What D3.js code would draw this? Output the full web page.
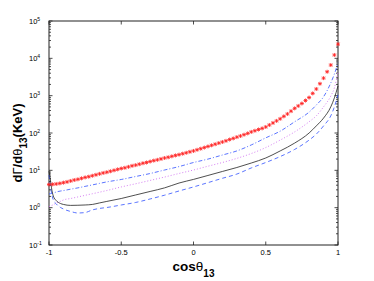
<!DOCTYPE html>
<html>
<head>
<meta charset="utf-8">
<script src="https://cdn.jsdelivr.net/npm/d3@7"></script>
<style>
body { margin: 0; background: #fff; }
text { font-family: "Liberation Sans", Arial, sans-serif; }
</style>
</head>
<body>
<div id="chart"></div>
<script>
const width = 374, height = 281;
const margin = {left: 49, right: 36, top: 21, bottom: 36};

// tick labels
const xTicks = [-1, -0.5, 0, 0.5, 1];
const xTickLabels = ['-1', '-0.5', '0', '0.5', '1'];
const yTicks = [1e-1, 1e0, 1e1, 1e2, 1e3, 1e4, 1e5];
const yTickExp = ['-1', '0', '1', '2', '3', '4', '5'];

// line series, sampled at cosLine
const cosLine = [-1, -0.99, -0.98, -0.97, -0.95, -0.92, -0.9, -0.85, -0.8, -0.75, -0.7, -0.65, -0.6,
	-0.5, -0.4, -0.3, -0.2, -0.1, 0, 0.1, 0.2, 0.3, 0.4, 0.5, 0.6, 0.7, 0.8, 0.85, 0.9, 0.95, 0.975, 1];
const solidBlack = [9.5, 5.5, 2.95, 2.04, 1.55, 1.29, 1.22, 1.15, 1.16, 1.18, 1.22, 1.34, 1.47,
	1.76, 2.19, 2.72, 3.39, 4.57, 5.71, 7.29, 9.33, 11.9, 15.7, 21.4, 33.1, 53.7, 100, 155, 251, 501, 871, 1820];
const dashBlue = [7.5, 3.8, 2.19, 1.61, 1.26, 1.01, 0.92, 0.79, 0.72, 0.74, 0.87, 0.955, 1.01,
	1.18, 1.38, 1.71, 2.16, 2.80, 3.59, 4.68, 6.12, 7.94, 11.6, 16.2, 23.4, 36.3, 64.6, 93.3, 155, 288, 501, 1050];
const dashDotBlue = [2.34, 2.37, 2.40, 2.45, 2.63, 2.79, 2.87, 3.13, 3.39, 3.72, 4.07, 4.47, 4.90,
	5.69, 6.84, 8.22, 10.2, 12.6, 16.2, 20.0, 25.7, 33.1, 47.9, 74.1, 112, 200, 363, 562, 933, 2190, 3800, 7590];
const dotMagenta = [1.05, 1.10, 1.15, 1.20, 1.34, 1.48, 1.61, 1.76, 1.94, 2.14, 2.36, 2.60, 2.88,
	3.59, 4.37, 5.37, 6.61, 8.24, 10.2, 12.9, 16.2, 20.9, 28.2, 40.7, 64.6, 107, 200, 288, 501, 977, 1620, 4270];

// star markers
const cosStar = [-1, -0.975, -0.95, -0.925, -0.9, -0.875, -0.85, -0.825, -0.8, -0.775, -0.75, -0.725, -0.7,
	-0.675, -0.65, -0.625, -0.6, -0.575, -0.55, -0.525, -0.5, -0.475, -0.45, -0.425, -0.4, -0.375, -0.35,
	-0.325, -0.3, -0.275, -0.25, -0.225, -0.2, -0.175, -0.15, -0.125, -0.1, -0.075, -0.05, -0.025, 0,
	0.025, 0.05, 0.075, 0.1, 0.125, 0.15, 0.175, 0.2, 0.225, 0.25, 0.275, 0.3, 0.325, 0.35, 0.375, 0.4,
	0.425, 0.45, 0.475, 0.5, 0.525, 0.55, 0.575, 0.6, 0.625, 0.65, 0.675, 0.7, 0.725, 0.75, 0.775, 0.8,
	0.825, 0.85, 0.875, 0.9, 0.925, 0.95, 0.975, 1];
const starRed = [4.17, 4.22, 4.32, 4.47, 4.68, 4.90, 5.19, 5.50, 5.75, 6.10, 6.46, 6.76, 7.16,
	7.59, 8.04, 8.51, 8.91, 9.44, 10.0, 10.6, 11.2, 11.7, 12.4, 13.2, 13.8, 14.6, 15.5,
	16.2, 17.2, 18.2, 19.1, 20.2, 21.4, 22.4, 23.7, 25.1, 26.3, 27.9, 29.5, 31.3, 33.1,
	35.5, 38.0, 40.7, 43.7, 46.8, 50.1, 53.7, 57.5, 61.7, 66.8, 71.6, 77.6, 83.2, 90.2, 97.7, 107,
	115, 124, 133, 145, 164, 186, 211, 240, 279, 324, 385, 457, 531, 617, 741, 891,
	1150, 1510, 2090, 2950, 4370, 6610, 12300, 24000];

var svg = d3.select('#chart')
	.append('svg')
	.attr('width', width)
	.attr('height', height);

var xScale = d3.scaleLinear()
	.domain([-1, 1])
	.range([margin.left, width - margin.right]);

var yScale = d3.scaleLog()
	.domain([1e-1, 1e5])
	.range([height - margin.bottom, margin.top]);

const x0 = xScale.range()[0], x1 = xScale.range()[1];
const y0 = yScale.range()[0], y1 = yScale.range()[1];

// minor ticks on the log axis
var minorTicks = [];
for (let e = -1; e < 5; e++) {
	for (let k = 2; k < 10; k++) minorTicks.push(k * Math.pow(10, e));
}

var ticks = svg.append('g')
	.attr('stroke', '#000')
	.attr('stroke-width', 0.7);

ticks.selectAll('.ymin')
	.data(minorTicks)
	.enter()
	.append('path')
	.attr('d', d => `M${x0},${yScale(d)}h2M${x1},${yScale(d)}h-2`);

ticks.selectAll('.ymaj')
	.data(yTicks)
	.enter()
	.append('path')
	.attr('d', d => `M${x0},${yScale(d)}h3.5M${x1},${yScale(d)}h-3.5`);

ticks.selectAll('.xmaj')
	.data(xTicks)
	.enter()
	.append('path')
	.attr('d', d => `M${xScale(d)},${y0}v-3.5M${xScale(d)},${y1}v3.5`);

// box
svg.append('rect')
	.attr('x', x0)
	.attr('y', y1)
	.attr('width', x1 - x0)
	.attr('height', y0 - y1)
	.attr('fill', 'none')
	.attr('stroke', '#222')
	.attr('stroke-width', 1);

// tick labels
svg.append('g')
	.selectAll('text')
	.data(xTicks)
	.enter()
	.append('text')
	.attr('x', d => xScale(d))
	.attr('y', y0 + 10)
	.attr('text-anchor', 'middle')
	.attr('font-size', 7.5)
	.text((d, i) => xTickLabels[i]);

var yLab = svg.append('g')
	.selectAll('text')
	.data(yTicks)
	.enter()
	.append('text')
	.attr('x', 29)
	.attr('y', d => yScale(d) + 2.7)
	.attr('font-size', 7.5);
yLab.append('tspan').text('10');
yLab.append('tspan')
	.attr('dy', -3)
	.attr('font-size', 5)
	.text((d, i) => yTickExp[i]);

// curves
var line = d3.line()
	.x(d => xScale(d[0]))
	.y(d => yScale(d[1]))
	.curve(d3.curveMonotoneX);

var plot = svg.append('g');

function drawLine(values, color, dash, w) {
	plot.append('path')
		.datum(cosLine.map((c, i) => [c, values[i]]))
		.attr('d', line)
		.attr('fill', 'none')
		.attr('stroke', color)
		.attr('stroke-width', w)
		.attr('stroke-dasharray', dash);
}

drawLine(dotMagenta, '#d070f0', '1,2', 0.9);
drawLine(dashDotBlue, '#3050ff', '4,2,1,2', 0.8);
drawLine(dashBlue, '#3050ff', '4,3', 0.8);
drawLine(solidBlack, '#222', null, 0.8);

plot.append('g')
	.selectAll('path')
	.data(cosStar.map((c, i) => [c, starRed[i]]))
	.enter()
	.append('path')
	.attr('transform', d => `translate(${xScale(d[0])},${yScale(d[1])})`)
	.attr('d', 'M-2,0H2M0,-2V2M-1.5,-1.5L1.5,1.5M-1.5,1.5L1.5,-1.5')
	.attr('stroke', '#ff2020')
	.attr('stroke-width', 0.8)
	.attr('fill', 'none');

// axis titles
var xTitle = svg.append('text')
	.attr('x', (x0 + x1) / 2)
	.attr('y', 270.5)
	.attr('text-anchor', 'middle')
	.attr('font-size', 13.5)
	.attr('font-weight', 'bold');
xTitle.append('tspan').text('cos');
xTitle.append('tspan').attr('font-weight', 'normal').text('θ');
xTitle.append('tspan').attr('dy', 6).attr('font-size', 10).text('13');

var yTitle = svg.append('text')
	.attr('transform', 'translate(21.5,143) rotate(-90)')
	.attr('text-anchor', 'middle')
	.attr('font-size', 13)
	.attr('font-weight', 'bold');
yTitle.append('tspan').text('d');
yTitle.append('tspan').attr('font-weight', 'normal').text('Γ');
yTitle.append('tspan').text('/d');
yTitle.append('tspan').attr('font-weight', 'normal').text('θ');
yTitle.append('tspan').attr('dy', 5).attr('font-size', 10).text('13');
yTitle.append('tspan').attr('dy', -5).text('(KeV)');
</script>
</body>
</html>
